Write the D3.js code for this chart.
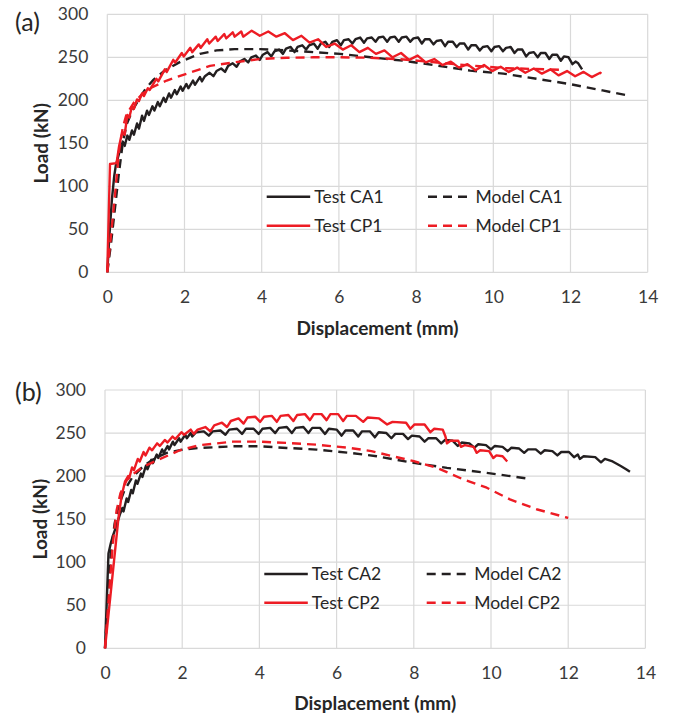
<!DOCTYPE html>
<html><head><meta charset="utf-8">
<script src="https://cdn.jsdelivr.net/npm/d3@7"></script>
<style>body{margin:0;background:#fff}svg{display:block}</style>
</head><body>
<svg id="c" width="674" height="717"></svg>
<script>
const xTicks=[0,2,4,6,8,10,12,14];
const yTicks=[0,50,100,150,200,250,300];
const xTitle="Displacement (mm)";
const yTitle="Load (kN)";

// Panel (a)
const testCA1=[[0,0],[0.05,40],[0.12,85],[0.18,112],[0.22,124],[0.28,134],[0.33,142],[0.4,152],[0.45,147],[0.52,159],[0.57,154],[0.64,165],[0.69,160],[0.77,173],[0.82,167],[0.9,182],[0.95,176],[1.03,188],[1.08,183],[1.17,193],[1.22,188],[1.31,198],[1.36,193],[1.46,203],[1.51,198],[1.6,208],[1.65,203],[1.75,212],[1.8,207],[1.9,216],[1.95,211],[2.05,219],[2.1,214],[2.22,223],[2.27,218],[2.4,227],[2.45,222],[2.53,228],[2.65,232],[2.75,228],[2.83,234],[2.95,237],[3.05,233],[3.13,240],[3.25,243],[3.35,239],[3.43,245],[3.55,248],[3.65,244],[3.73,250],[3.85,252],[3.95,247],[4.03,253],[4.15,256],[4.25,251],[4.33,257],[4.45,259],[4.55,254],[4.63,260],[4.75,262],[4.85,256],[4.93,262],[5.05,264],[5.15,259],[5.23,264],[5.35,266],[5.45,260],[5.53,266],[5.65,268],[5.75,262],[5.83,268],[5.95,270],[6.05,264],[6.13,270],[6.25,271],[6.35,266],[6.43,271],[6.55,273],[6.65,267],[6.73,272],[6.85,273],[6.95,268],[7.03,273],[7.15,274],[7.25,268],[7.33,273],[7.45,274],[7.55,268],[7.63,273],[7.75,274],[7.85,268],[7.93,272],[8.05,273],[8.15,266],[8.23,271],[8.35,271],[8.45,265],[8.53,269],[8.65,270],[8.75,263],[8.83,268],[8.95,268],[9.05,262],[9.13,266],[9.25,266],[9.35,259],[9.43,264],[9.55,264],[9.65,258],[9.73,262],[9.85,263],[9.95,257],[10.03,262],[10.15,263],[10.25,257],[10.33,261],[10.45,262],[10.55,255],[10.63,259],[10.75,259],[10.85,251],[10.93,255],[11.05,256],[11.15,250],[11.23,255],[11.35,255],[11.45,248],[11.53,253],[11.65,253],[11.75,246],[11.83,251],[11.95,250],[12.05,242],[12.13,245],[12.2,243],[12.3,236]];
const modelCA1=[[0,0],[0.1,35],[0.2,75],[0.3,115],[0.4,150],[0.5,172],[0.65,188],[0.8,200],[1.0,214],[1.2,224],[1.5,235],[1.9,245],[2.4,254],[2.83,258],[3.3,259.5],[3.96,259.5],[4.65,258],[5.34,256],[6.03,254],[6.82,250],[7.68,246],[8.54,240.5],[9.4,234.5],[10.26,231],[11.12,225],[11.97,219],[12.83,211.5],[13.5,205.5]];
const testCP1=[[0,0],[0.07,126],[0.24,127],[0.3,145],[0.36,158],[0.4,163],[0.45,160],[0.52,183],[0.57,180],[0.64,193],[0.69,190],[0.77,201],[0.82,199],[0.9,208],[0.95,205],[1.05,214],[1.1,212],[1.27,225],[1.32,222],[1.49,236],[1.54,233],[1.71,247],[1.76,244],[1.93,255],[1.98,251],[2.15,261],[2.2,256],[2.37,265],[2.42,261],[2.59,271],[2.64,266],[2.81,274],[2.86,269],[3.03,277],[3.08,272],[3.25,279],[3.3,274],[3.47,280],[3.52,274],[3.74,281],[3.95,275],[4.17,280],[4.38,274],[4.6,278],[4.81,270],[5.03,275],[5.24,267],[5.46,271],[5.67,262],[5.89,266],[6.1,259],[6.32,264],[6.53,256],[6.75,261],[6.96,254],[7.18,258],[7.39,250],[7.61,255],[7.82,247],[8.04,252],[8.25,244],[8.47,248],[8.68,241],[8.9,245],[9.11,238],[9.33,242],[9.54,235],[9.76,241],[9.97,234],[10.19,239],[10.4,233],[10.62,238],[10.83,232],[11.05,237],[11.26,231],[11.48,236],[11.69,229],[11.91,234],[12.12,228],[12.34,233],[12.55,227],[12.77,232],[12.8,231]];
const modelCP1=[[0,0],[0.1,45],[0.2,90],[0.3,140],[0.4,168],[0.5,184],[0.7,198],[0.9,207],[1.11,214],[1.54,223],[2.06,231],[2.66,240],[3.27,244],[3.96,248],[4.65,249.5],[5.34,250],[6.03,250],[6.82,249.5],[7.68,247.5],[8.54,244],[9.4,240.5],[10.26,237.5],[11.0,236.5],[11.7,235.5]];

// Panel (b)
const testCA2=[[0,0],[0.05,60],[0.09,110],[0.15,122],[0.2,130],[0.3,143],[0.39,156],[0.45,163],[0.48,159],[0.56,174],[0.6,170],[0.68,184],[0.72,180],[0.8,195],[0.84,191],[0.93,203],[0.97,199],[1.06,212],[1.1,208],[1.2,219],[1.24,215],[1.34,225],[1.38,221],[1.48,231],[1.52,227],[1.62,235],[1.66,231],[1.76,240],[1.8,236],[1.92,244],[1.96,240],[2.08,248],[2.12,244],[2.22,250],[2.26,246],[2.36,251],[2.56,252],[2.69,247],[2.79,252],[2.99,253],[3.12,248],[3.22,254],[3.42,255],[3.55,249],[3.65,255],[3.85,255],[3.98,249],[4.08,255],[4.28,256],[4.41,250],[4.51,256],[4.71,257],[4.84,250],[4.94,256],[5.14,257],[5.27,250],[5.37,256],[5.57,256],[5.7,249],[5.8,255],[6.0,254],[6.13,247],[6.23,253],[6.43,253],[6.56,246],[6.66,252],[6.86,252],[6.99,245],[7.09,251],[7.29,250],[7.42,244],[7.52,249],[7.72,249],[7.85,243],[7.95,247],[8.15,246],[8.28,240],[8.38,244],[8.58,244],[8.71,238],[8.81,242],[9.01,241],[9.14,235],[9.24,239],[9.44,238],[9.57,233],[9.67,237],[9.87,236],[10.0,231],[10.1,235],[10.3,234],[10.43,229],[10.53,233],[10.73,232],[10.86,227],[10.96,231],[11.16,231],[11.29,226],[11.39,230],[11.59,229],[11.72,224],[11.82,228],[12.02,228],[12.15,222],[12.25,225],[12.3,220],[12.4,223],[12.7,222],[12.85,216],[12.95,220],[13.15,217],[13.35,212],[13.5,208],[13.6,205]];
const modelCA2=[[0,0],[0.08,60],[0.15,110],[0.25,145],[0.35,165],[0.5,183],[0.7,198],[1.0,212],[1.3,221],[1.6,227],[2.03,231],[2.46,232.7],[3.32,234.6],[4.02,234.6],[4.71,232.7],[5.48,230.8],[6.35,227],[7.04,223],[8.0,215.4],[8.86,209.6],[9.89,203.8],[10.92,197.3],[11.0,197]];
const testCP2=[[0,0],[0.35,152],[0.43,177],[0.52,194],[0.6,200],[0.63,198],[0.7,210],[0.75,207],[0.85,220],[0.9,217],[1.0,228],[1.05,224],[1.15,233],[1.22,230],[1.35,238],[1.42,235],[1.55,242],[1.62,239],[1.75,246],[1.82,243],[1.98,251],[2.05,248],[2.22,254],[2.3,249],[2.4,254],[2.6,257],[2.73,252],[2.83,259],[3.03,262],[3.16,257],[3.26,264],[3.46,267],[3.59,261],[3.69,268],[3.89,269],[4.02,263],[4.12,269],[4.32,270],[4.45,263],[4.55,270],[4.75,271],[4.88,264],[4.98,271],[5.18,272],[5.31,265],[5.41,272],[5.61,272],[5.74,265],[5.84,272],[6.04,272],[6.17,264],[6.27,270],[6.5,270],[6.69,263],[6.8,268],[7.1,267],[7.31,260],[7.45,263],[7.8,262],[7.91,255],[8.02,260],[8.28,260],[8.43,251],[8.53,255],[8.75,254],[8.82,246],[8.86,238],[8.95,241],[9.15,241],[9.22,234],[9.32,236],[9.55,234],[9.63,227],[9.72,230],[9.95,229],[10.06,221],[10.14,224],[10.3,223],[10.42,217]];
const modelCP2=[[0,0],[0.1,60],[0.2,120],[0.3,160],[0.4,180],[0.56,195],[0.75,203],[0.99,211],[1.38,219],[1.94,230],[2.46,236],[3.32,240],[4.02,240],[4.71,238.5],[5.48,236.5],[6.35,232.7],[6.9,229],[8.0,217.3],[8.6,209.6],[9.29,196],[9.89,186.5],[10.49,173],[11.18,161.5],[11.96,151.9],[12.0,151.5]];

const BLACK="#231f20", RED="#ed1c24", GRID="#d9d9d9", TXT="#3a3a3a";
const FONT="Lato, 'Open Sans', sans-serif";

const panels=[
 {label:"(a)", lx:15, ly:31, left:107.3, right:647.7, top:14.3, bottom:272.3, yTitleX:41, xTitleY:334.5,
  series:[{name:"Test CA1",data:testCA1,color:BLACK,dash:null},
          {name:"Model CA1",data:modelCA1,color:BLACK,dash:"9,6"},
          {name:"Test CP1",data:testCP1,color:RED,dash:null},
          {name:"Model CP1",data:modelCP1,color:RED,dash:"9,6"}],
  legX:[266.7,428], legY:[196.7,225.7]},
 {label:"(b)", lx:15, ly:401, left:105, right:645.4, top:390, bottom:648.3, yTitleX:40, xTitleY:709.5,
  series:[{name:"Test CA2",data:testCA2,color:BLACK,dash:null},
          {name:"Model CA2",data:modelCA2,color:BLACK,dash:"9,6"},
          {name:"Test CP2",data:testCP2,color:RED,dash:null},
          {name:"Model CP2",data:modelCP2,color:RED,dash:"9,6"}],
  legX:[264.3,426.7], legY:[574,602.7]}
];

const svg=d3.select("#c");
panels.forEach(p=>{
  const x=d3.scaleLinear().domain([0,14]).range([p.left,p.right]);
  const y=d3.scaleLinear().domain([0,300]).range([p.bottom,p.top]);
  const g=svg.append("g");
  g.append("g").selectAll("line").data(yTicks).join("line")
    .attr("x1",p.left).attr("x2",p.right).attr("y1",d=>y(d)).attr("y2",d=>y(d))
    .attr("stroke",GRID).attr("stroke-width",1.2);
  g.append("g").selectAll("line").data(xTicks).join("line")
    .attr("y1",p.top).attr("y2",p.bottom).attr("x1",d=>x(d)).attr("x2",d=>x(d))
    .attr("stroke",GRID).attr("stroke-width",1.2);
  const ya=g.append("g").attr("transform",`translate(${p.left},0)`)
    .call(d3.axisLeft(y).tickValues(yTicks).tickSize(0).tickPadding(19));
  const xa=g.append("g").attr("transform",`translate(0,${p.bottom})`)
    .call(d3.axisBottom(x).tickValues(xTicks).tickSize(0).tickPadding(18));
  [ya,xa].forEach(a=>{a.select(".domain").remove();
    a.selectAll("text").attr("font-family",FONT).attr("font-size",17.5).attr("fill",TXT);});
  g.append("text").attr("transform",`translate(${p.yTitleX},${(p.top+p.bottom)/2}) rotate(-90)`)
    .attr("text-anchor","middle").attr("dy","0.35em").attr("font-family",FONT).attr("font-weight","bold")
    .attr("font-size",19).attr("fill","#262626").text(yTitle);
  g.append("text").attr("x",(p.left+p.right)/2).attr("y",p.xTitleY)
    .attr("text-anchor","middle").attr("font-family",FONT).attr("font-weight","bold")
    .attr("font-size",19).attr("fill","#262626").text(xTitle);
  g.append("text").attr("x",p.lx).attr("y",p.ly).attr("font-family",FONT)
    .attr("font-size",25).attr("fill","#262626").text(p.label);
  const line=d3.line().x(d=>x(d[0])).y(d=>y(d[1]));
  p.series.forEach(s=>{
    g.append("path").datum(s.data).attr("d",line).attr("fill","none")
      .attr("stroke",s.color).attr("stroke-width",2.4).attr("stroke-linejoin","round")
      .attr("stroke-dasharray",s.dash);
  });
  p.series.forEach((s,i)=>{
    const col=i%2, row=Math.floor(i/2);
    const lx=p.legX[col], ly=p.legY[row];
    g.append("line").attr("x1",lx).attr("x2",lx+43.5).attr("y1",ly).attr("y2",ly)
      .attr("stroke",s.color).attr("stroke-width",2.6).attr("stroke-dasharray",s.dash);
    g.append("text").attr("x",lx+47.5).attr("y",ly).attr("dy","0.35em")
      .attr("font-family",FONT).attr("font-size",17.5).attr("fill","#262626").text(s.name);
  });
});
</script>
</body></html>
